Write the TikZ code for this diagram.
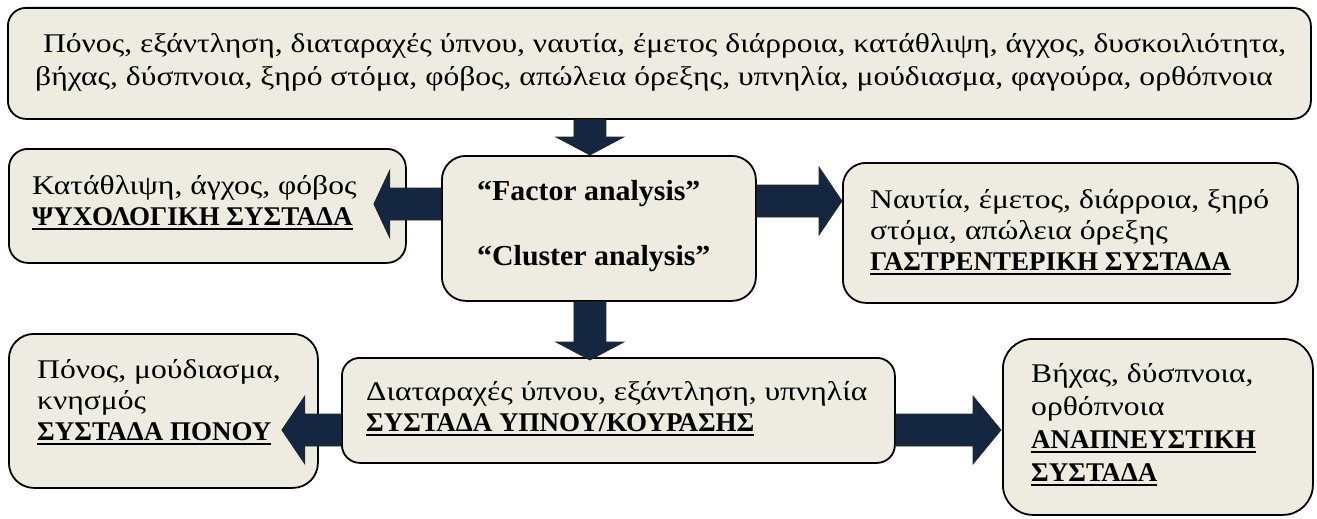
\documentclass[tikz,border=0pt]{standalone}
\usepackage{fontspec}
\setmainfont{Liberation Serif}
\newfontfamily\regfam{Liberation Serif}[FakeStretch=1.17]
\newfontfamily\latfam{Liberation Serif}[BoldFeatures={FakeStretch=1.03}]
\usetikzlibrary{calc}
\definecolor{boxfill}{RGB}{238,236,225}
\definecolor{arrowfill}{RGB}{21,38,64}
\newlength\ulw
\newcommand\ulb[1]{{\normalfont\bfseries\settowidth\ulw{#1}\rlap{#1}\rule[-5pt]{\ulw}{2pt}}}
\newcommand\fst{\rule{0pt}{22pt}}
\tikzset{
 box/.style={draw=black, line width=1.8pt, fill=boxfill, anchor=north west, inner sep=0pt},
 txt/.style={font=\regfam\fontsize{27}{31}\selectfont, align=left, anchor=north west, inner sep=0pt},
 barrow/.style={fill=arrowfill, draw=black!85, line width=0.7pt},
}
% horizontal block arrow: #1 start, #2 tip (same y), #3 head length
\newcommand\harrow[3]{%
 \path[barrow] let \p1=(#1), \p2=(#2), \n1={((\x2>\x1)*2-1)} in
 (\x1,\y1+16pt) -- (\x2-\n1*#3,\y1+16pt) -- (\x2-\n1*#3,\y1+34pt) -- (\x2,\y1)
 -- (\x2-\n1*#3,\y1-34pt) -- (\x2-\n1*#3,\y1-16pt) -- (\x1,\y1-16pt) -- cycle;}
% vertical block arrow: #1 start, #2 tip (same x), #3 head length
\newcommand\varrow[3]{%
 \path[barrow] let \p1=(#1), \p2=(#2), \n1={((\y2>\y1)*2-1)} in
 (\x1+16pt,\y1) -- (\x1+16pt,\y2-\n1*#3) -- (\x1+34pt,\y2-\n1*#3) -- (\x1,\y2)
 -- (\x1-34pt,\y2-\n1*#3) -- (\x1-16pt,\y2-\n1*#3) -- (\x1-16pt,\y1) -- cycle;}
\begin{document}
\begin{tikzpicture}[x=1pt,y=-1pt]
\useasboundingbox (0,0) rectangle (1317,519);
% boxes
\node[box, rounded corners=18pt, minimum width=1303pt, minimum height=111pt] (top) at (7,7) {};
\node[box, rounded corners=24pt, minimum width=314pt, minimum height=145pt] (c) at (441,155) {};
\node[box, rounded corners=19pt, minimum width=397pt, minimum height=114pt] (l1) at (8,148) {};
\node[box, rounded corners=23pt, minimum width=455pt, minimum height=140pt] (r1) at (842,162) {};
\node[box, rounded corners=18pt, minimum width=553pt, minimum height=105pt] (s) at (341,357) {};
\node[box, rounded corners=25pt, minimum width=309pt, minimum height=154pt] (l2) at (8,333) {};
\node[box, rounded corners=30pt, minimum width=310pt, minimum height=176pt] (r2) at (1002,338) {};
% texts (north = first baseline - 22)
\node[txt, font=\regfam\fontsize{27}{33}\selectfont] (topT) at (35,30) {\fst\ Πόνος, εξάντληση, διαταραχές ύπνου, ναυτία, έμετος διάρροια, κατάθλιψη, άγχος, δυσκοιλιότητα,\\βήχας, δύσπνοια, ξηρό στόμα, φόβος, απώλεια όρεξης, υπνηλία, μούδιασμα, φαγούρα, ορθόπνοια};
\node[txt, font=\latfam\fontsize{29}{65}\selectfont] (cT) at (477,178) {\fst\textbf{“Factor analysis”}\\\textbf{“Cluster analysis”}};
\node[txt] (l1T) at (32,172) {\fst Κατάθλιψη, άγχος, φόβος\\\ulb{ΨΥΧΟΛΟΓΙΚΗ ΣΥΣΤΑΔΑ}};
\node[txt] (r1T) at (870,186) {\fst Ναυτία, έμετος, διάρροια, ξηρό\\στόμα, απώλεια όρεξης\\\ulb{ΓΑΣΤΡΕΝΤΕΡΙΚΗ ΣΥΣΤΑΔΑ}};
\node[txt] (sT) at (366,378) {\fst Διαταραχές ύπνου, εξάντληση, υπνηλία\\\ulb{ΣΥΣΤΑΔΑ ΥΠΝΟΥ/ΚΟΥΡΑΣΗΣ}};
\node[txt] (l2T) at (37,356) {\fst Πόνος, μούδιασμα,\\κνησμός\\\ulb{ΣΥΣΤΑΔΑ ΠΟΝΟΥ}};
\node[txt, font=\regfam\fontsize{27}{33}\selectfont] (r2T) at (1031,360) {\fst Βήχας, δύσπνοια,\\ορθόπνοια\\\ulb{ΑΝΑΠΝΕΥΣΤΙΚΗ}\\\ulb{ΣΥΣΤΑΔΑ}};
% connector points
\coordinate (a1s) at ($(top.south -| c.north)+(-9,0)$);
\coordinate (a1t) at ($(c.north)+(-9,0)$);
\coordinate (a2s) at ($(c.north west)+(0,49)$);
\coordinate (a2t) at ($(l1.north east)+(-33,56)$);
\coordinate (a3s) at ($(c.north east)+(0,46)$);
\coordinate (a3t) at (r1.west |- a3s);
\coordinate (a4s) at ($(c.south)+(-9,0)$);
\coordinate (a4t) at ($(c.south |- s.north)+(-9,3)$);
\coordinate (a5s) at ($(s.north west)+(0,73)$);
\coordinate (a5t) at ($(l2.east |- a5s)+(-37,0)$);
\coordinate (a6s) at ($(s.north east)+(0,73)$);
\coordinate (a6t) at ($(r2.west |- a6s)+(-1,0)$);
\harrow{a2s}{a2t}{16pt}
\harrow{a3s}{a3t}{23pt}
\harrow{a5s}{a5t}{23pt}
\harrow{a6s}{a6t}{28pt}
\varrow{a1s}{a1t}{18pt}
\varrow{a4s}{a4t}{18pt}
\end{tikzpicture}
\end{document}
